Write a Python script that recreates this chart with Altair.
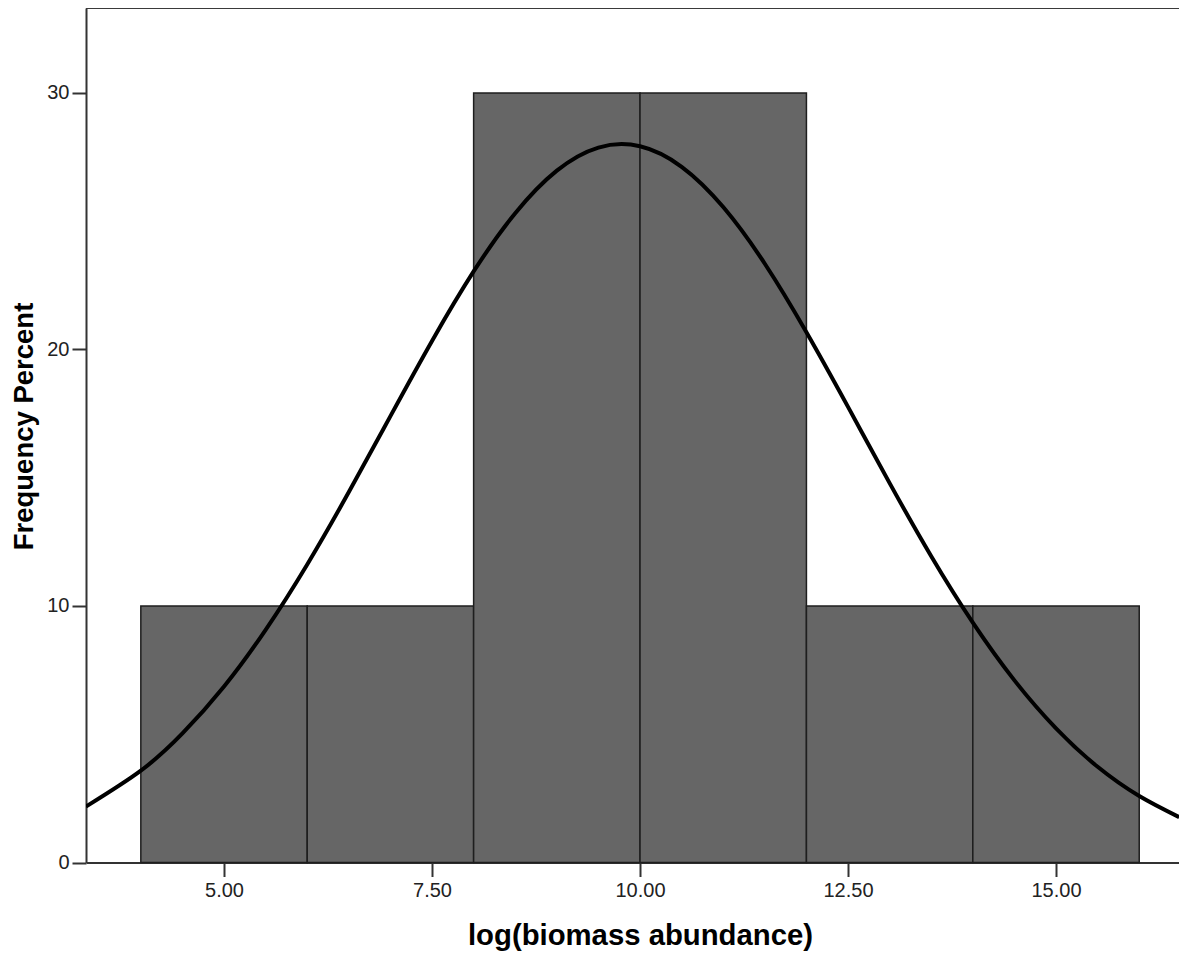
import altair as alt
import pandas as pd

# Histogram bins (log biomass abundance) and their frequency percent
bin_start = [4, 6, 8, 10, 12, 14]
bin_end = [6, 8, 10, 12, 14, 16]
percent = [10, 10, 30, 30, 10, 10]

# Normal curve
curve_x = [3.34, 4.0, 4.5, 5.0, 5.5, 6.0, 6.5, 7.0, 7.5, 8.0, 8.5, 9.0, 9.5,
           10.0, 10.5, 11.0, 11.5, 12.0, 12.5, 13.0, 13.5, 14.0, 14.5, 15.0, 15.5,
           16.0, 16.48]
curve_y = [2.18, 3.58, 5.03, 6.86, 9.07, 11.62, 14.44, 17.40, 20.33, 23.04, 25.31, 26.97, 27.87,
           27.92, 27.12, 25.55, 23.34, 20.67, 17.76, 14.79, 11.94, 9.35, 7.10, 5.23, 3.73,
           2.59, 1.77]

x_ticks = [5.0, 7.5, 10.0, 12.5, 15.0]
y_ticks = [0, 10, 20, 30]

x_domain = [3.341, 16.478]
y_domain = [0, 33.31]

bars_df = pd.DataFrame({"start": bin_start, "end": bin_end, "pct": percent})
curve_df = pd.DataFrame({"x": curve_x, "y": curve_y})

FONT = "Liberation Sans"

x_scale = alt.Scale(domain=x_domain, nice=False, zero=False)
y_scale = alt.Scale(domain=y_domain, nice=False)

x_axis = alt.Axis(
    values=x_ticks, format=".2f", grid=False,
    title="log(biomass abundance)", titleFont=FONT, titleFontSize=29.3,
    titleFontWeight="bold", titleColor="#000000", titlePadding=21,
    titleX=554,
    labelFont=FONT, labelFontSize=20, labelColor="#222222", labelPadding=4,
    tickSize=14, tickColor="#333333", tickWidth=2,
    domainColor="#333333", domainWidth=2,
)
y_axis = alt.Axis(
    values=y_ticks, grid=False,
    title="Frequency Percent", titleFont=FONT, titleFontSize=27.5,
    titleFontWeight="bold", titleColor="#000000", titlePadding=8,
    titleY=418,
    labelFont=FONT, labelFontSize=20, labelColor="#222222", labelPadding=3,
    tickSize=14, tickColor="#333333", tickWidth=2,
    domainColor="#333333", domainWidth=2,
)

bars = alt.Chart(bars_df).mark_rect(
    fill="#666666", stroke="#1e1e1e", strokeWidth=1.5
).encode(
    x=alt.X("start:Q", scale=x_scale, axis=x_axis),
    x2="end:Q",
    y=alt.Y("pct:Q", scale=y_scale, axis=y_axis),
    y2=alt.datum(0),
)

curve = alt.Chart(curve_df).mark_line(
    color="#000000", strokeWidth=4, interpolate="natural", clip=True
).encode(
    x=alt.X("x:Q", scale=x_scale),
    y=alt.Y("y:Q", scale=y_scale),
)

top_frame = alt.Chart(bars_df).mark_rule(color="#3a3a3a", strokeWidth=2).encode(
    y=alt.value(0)
)

chart = alt.layer(bars, curve, top_frame).properties(
    width=1093,
    height=854.5,
    autosize=alt.AutoSizeParams(type="none"),
    padding={"left": 78, "top": 0, "right": 0, "bottom": 96},
    background="#ffffff",
).configure_view(stroke=None)

chart.save("out.html", embed_options={"renderer": "svg", "actions": False})
